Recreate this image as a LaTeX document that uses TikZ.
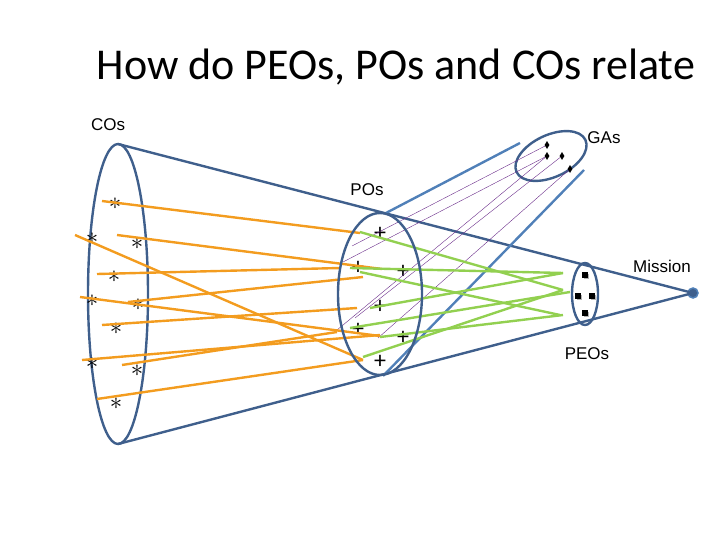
\documentclass[tikz,border=0pt]{standalone}
\usepackage{fontspec}
\setmainfont{Carlito}
\newfontfamily\arialfont{Liberation Sans}
\usetikzlibrary{shapes.geometric}
\definecolor{conblue}{HTML}{3F5F8C}
\definecolor{gablue}{HTML}{5080B8}
\definecolor{coorange}{HTML}{F39C1F}
\definecolor{pogreen}{HTML}{92D050}
\definecolor{gapurple}{HTML}{6A2C8A}
\tikzstyle{label} = [font=\arialfont\fontsize{17}{20}\selectfont,inner sep=0pt]
\tikzstyle{cone} = [draw=conblue,line width=2.4pt]
\tikzstyle{co} = [font=\fontsize{30}{30}\selectfont,inner sep=0pt]
\tikzstyle{po} = [font=\fontsize{24}{24}\selectfont,inner sep=0pt]
\tikzstyle{peo} = [fill=black,minimum size=6pt,inner sep=0pt]
\tikzstyle{ga} = [diamond,fill=black,minimum width=5pt,minimum height=8pt,inner sep=0pt]
\tikzstyle{colink} = [draw=coorange,line width=2.4pt]
\tikzstyle{polink} = [draw=pogreen,line width=2.4pt]
\tikzstyle{galink} = [draw=gapurple,line width=0.4pt]

\begin{document}
\begin{tikzpicture}[x=1pt,y=-1pt]
	\useasboundingbox (0,0) rectangle (720,540);

	\node (title) at (396,67) {\fontsize{44}{50}\selectfont How do PEOs, POs and COs relate};
	\node[label] (l_co) at (108,125) {COs};
	\node[label] (l_ga) at (604,138) {GAs};
	\node[label] (l_po) at (367,190) {POs};
	\node[label] (l_mi) at (662,266) {Mission};
	\node[label] (l_peo) at (587,354) {PEOs};

	% cones
	\coordinate (co_top) at (118,144);
	\coordinate (co_bot) at (118,444);
	\node[circle,fill=conblue,draw=gablue,line width=1.5pt,minimum size=10pt,inner sep=0pt] (mission) at (693,293) {};
	\node[circle,fill=black,minimum size=2pt,inner sep=0pt] at (mission) {};
	\draw[cone] (co_top) -- (mission.center) -- (co_bot);
	\draw[cone] (118,294) ellipse (30 and 150);
	\coordinate (po_top) at (386,213);
	\coordinate (po_bot) at (383,376);
	\coordinate (ga_top) at (520,143);
	\coordinate (ga_bot) at (584,170);
	\draw[draw=gablue,line width=2.4pt] (po_top) -- (ga_top) (po_bot) -- (ga_bot);
	\draw[cone] (551,156) [rotate around={25:(551,156)}] ellipse (38 and 21);
	\draw[cone] (585,294) ellipse (13 and 31);

	% COs
	\foreach \n/\x/\y in {1/115/200,2/92/235,3/137/240,4/114/273,5/92/297,
		6/138/301,7/116/325,8/92/360,9/137/367,10/116/400}
		\node[co] (co\n) at (\x,\y+4) {$\ast$};
	% POs
	\foreach \n/\x/\y in {1/380/234,2/358/268,3/403/272,4/380/307,5/358/330,
		6/403/338,7/380/362}
		\node[po] (po\n) at (\x,\y) {+};
	% PEOs
	\foreach \n/\x/\y in {1/585/275,2/578/296,3/592/296,4/585/313}{
		\fill[gray!60] (\x-1,\y-1) rectangle ++(5,5);
		\node[peo] (peo\n) at (\x,\y) {};
	}
	% GAs
	\foreach \n/\x/\y in {1/547/145,2/547/156,3/562/156,4/570/169}
		\node[ga] (ga\n) at (\x,\y) {};

	% purple
	\foreach \g/\x/\y in {1/352/246,2/343/262,3/355/318,4/378/338}
		\draw[galink] (ga\g) -- (\x,\y);
	\draw[galink] (ga2) -- (337,330);

	% orange
	\draw[colink] (102,201) -- (360,233);
	\draw[colink] (117,235) -- (382,269);
	\draw[colink] (75,235) -- (363,360);
	\draw[colink] (97,274) -- (340,268);
	\draw[colink] (128,302) -- (363,277);
	\draw[colink] (80,297) -- (380,336);
	\draw[colink] (102,325) -- (357,308);
	\draw[colink] (82,360) -- (380,335);
	\draw[colink] (122,365) -- (337,332);
	\draw[colink] (97,399) -- (363,360);

	% green
	\draw[polink] (360,232) -- (563,290);
	\draw[polink] (350,268) -- (563,273);
	\draw[polink] (360,272) -- (560,315);
	\draw[polink] (370,308) -- (563,273);
	\draw[polink] (350,328) -- (570,292);
	\draw[polink] (380,337) -- (563,315);
	\draw[polink] (363,357) -- (563,290);

	\draw[cone] (380,294) ellipse (42 and 81);
\end{tikzpicture}
\end{document}
